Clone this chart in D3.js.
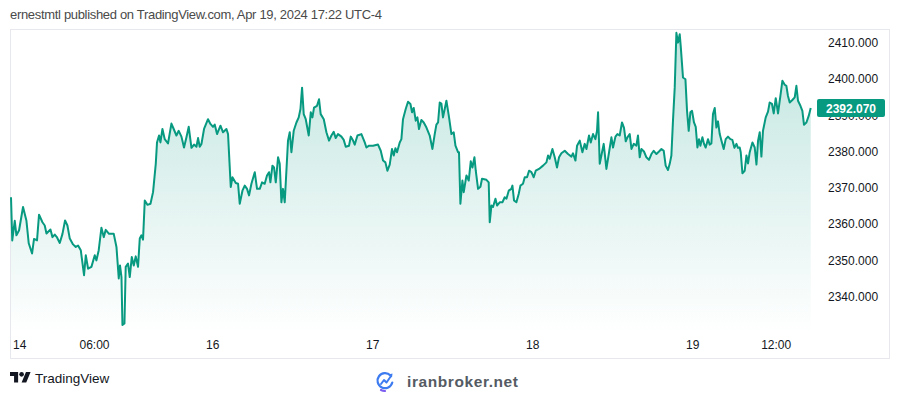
<!DOCTYPE html>
<html>
<head>
<meta charset="utf-8">
<script src="https://cdn.jsdelivr.net/npm/d3@7"></script>
<style>
  body { margin: 0; background: #fff; }
  svg { display: block; font-family: "Liberation Sans", Arial, sans-serif; }
</style>
</head>
<body>
<svg id="chart" width="900" height="395"></svg>
<script>
// trading hours since the Apr 14 18:00 open, and the XAUUSD price
var hours = [0, 0.18, 0.54, 0.78, 1.16, 1.73, 2.22, 2.55, 3.03, 3.31, 3.74, 4.03, 4.52, 4.85, 5.10, 5.67, 5.96, 6.29, 6.62, 7.01,
  7.40, 7.77, 8.11, 8.45, 8.92, 9.31, 9.64, 10.03, 10.50, 10.75, 11.08, 11.56, 12.04, 12.28, 12.61, 13.00, 13.33, 13.62, 14.09, 14.77,
  15.16, 15.49, 15.67, 15.88, 16.02, 16.31, 16.49, 16.82, 17.07, 17.36, 17.65, 17.93, 18.26, 18.51, 18.75, 18.98, 19.23, 19.61, 20.05, 20.42,
  20.81, 20.99, 21.28, 21.48, 21.77, 22.10, 22.57, 23.06, 23.39, 23.78, 24.11, 24.50, 24.87, 25.22, 25.55, 25.94, 26.31, 26.66, 26.89, 27.13,
  27.38, 27.75, 28.32, 28.67, 29.04, 29.29, 29.62, 30.11, 30.48, 30.97, 31.20, 31.59, 31.83, 32.31, 32.64, 32.88, 33.27, 33.60, 33.93, 34.22,
  34.56, 35.04, 35.37, 35.76, 36.09, 36.47, 36.80, 37.09, 37.29, 37.58, 37.81, 38.06, 38.39, 38.63, 38.87, 39.10, 39.35, 39.82, 40.07, 40.31,
  40.64, 41.03, 41.36, 41.61, 41.84, 42.08, 42.37, 42.80, 43.09, 43.33, 43.56, 43.99, 44.28, 44.52, 44.96, 45.34, 45.72, 46.06, 46.39, 46.68,
  47.01, 47.50, 47.83, 48.12, 48.59, 48.84, 49.17, 49.41, 49.80, 50.37, 50.85, 51.09, 51.47, 52.04, 52.76, 53.15, 53.48, 53.82, 54.11, 54.44,
  54.77, 55.02, 55.26, 55.49, 55.88, 56.12, 56.35, 56.74, 57.07, 57.42, 57.65, 57.89, 58.18, 58.42, 58.65, 58.99, 59.33, 59.72, 60.19, 60.58,
  60.91, 61.15, 61.39, 61.63, 61.87, 62.10, 62.59, 62.97, 63.31, 63.64, 63.89, 64.26, 64.40, 64.60, 64.89, 65.08, 65.47, 65.80, 66.09, 66.33,
  66.62, 66.81, 67.14, 67.48, 67.71, 68.34, 68.67, 68.82, 69.06, 69.29, 69.64, 69.87, 70.25, 70.64, 70.97, 71.22, 71.55, 71.93, 72.08, 72.31,
  72.65, 72.98, 73.23, 73.60, 73.85, 74.18, 74.47, 74.81, 75.14, 75.43, 75.90, 76.48, 76.97, 77.20, 77.44, 77.83, 78.16, 78.49, 78.78, 79.12,
  79.60, 80.07, 80.56, 80.79, 81.14, 81.37, 81.76, 82.14, 82.47, 82.72, 83.09, 83.34, 83.67, 84.01, 84.24, 84.39, 84.63, 84.96, 85.20, 85.59,
  85.97, 86.31, 86.54, 86.89, 87.17, 87.50, 87.83, 88.12, 88.37, 88.61, 88.94, 89.19, 89.52, 89.90, 90.13, 90.38, 90.62, 90.99, 91.34, 91.71,
  92.06, 92.39, 92.78, 93.15, 93.50, 93.83, 94.11, 94.44, 94.69, 94.93, 95.16, 95.41, 95.65, 95.88, 96.13, 96.27, 96.60, 96.95, 97.18, 97.42,
  97.66, 97.90, 98.18, 98.43, 98.67, 98.90, 99.10, 99.39, 99.62, 99.86, 100.19, 100.44, 100.68, 100.91, 101.16, 101.40, 101.63, 101.88, 102.12, 102.45,
  102.74, 103.07, 103.41, 103.70, 103.99, 104.28, 104.51, 104.75, 104.90, 105.14, 105.47, 105.72, 105.95, 106.19, 106.58, 106.91, 107.16, 107.39, 107.63, 107.87,
  108.10, 108.49, 108.82, 109.06, 109.39, 109.64, 109.93, 110.26, 110.60, 110.89, 111.22, 111.46, 111.69, 111.94, 112.32, 112.66, 112.90, 113.13, 113.48, 113.76,
  113.99, 114.34, 114.67, 114.96];
var prices = [2367.5, 2355.6, 2361, 2357, 2358.4, 2364.8, 2361, 2354.8, 2352, 2356, 2355.6, 2362.7, 2360.6, 2359.7, 2357.5, 2358.6, 2356.5, 2357.2, 2356.4, 2354.9,
  2357.4, 2361.1, 2359.7, 2356.1, 2354.5, 2353.8, 2354.2, 2352.9, 2346, 2351.5, 2347.8, 2348.3, 2351.5, 2350.1, 2352.9, 2359.1, 2356.5, 2358.5, 2357.4, 2357.4,
  2353.8, 2345.1, 2348.7, 2345.5, 2332.3, 2332.7, 2348.3, 2349.2, 2345.5, 2351, 2348.7, 2351.2, 2348.3, 2356.1, 2357, 2355.8, 2366.6, 2365.4, 2365.7, 2368.9,
  2376.7, 2382.6, 2384.5, 2382.6, 2386.3, 2383.5, 2382.3, 2387.8, 2386.3, 2384.5, 2385.8, 2384.2, 2381.2, 2384, 2386.9, 2381.1, 2382, 2381.4, 2383.8, 2381.4,
  2382.2, 2386.3, 2389, 2387.7, 2386.9, 2387.5, 2384.9, 2387.2, 2385.4, 2386.3, 2384.9, 2370.3, 2373, 2371.4, 2371.2, 2365.7, 2369.3, 2370.7, 2369.8, 2368,
  2371.2, 2374.4, 2369.8, 2369.8, 2371.6, 2371.2, 2373.5, 2374.4, 2371.6, 2376.2, 2375.7, 2371.6, 2378.5, 2376.7, 2366.1, 2369.8, 2366.1, 2383.1, 2385.4, 2379.9,
  2385.8, 2388.1, 2389.5, 2391.8, 2397.7, 2390.4, 2389, 2384.5, 2390.9, 2389.5, 2392.2, 2392.7, 2394.5, 2390.4, 2389, 2385.4, 2383.1, 2384.5, 2385.5, 2383.8,
  2384.9, 2384.2, 2383.3, 2381.4, 2381.7, 2384.2, 2383.1, 2382, 2384.5, 2384.9, 2382.6, 2381.2, 2381.7, 2381.7, 2382, 2380.3, 2377.6, 2377.1, 2374.8, 2376.5,
  2380.8, 2379, 2381, 2379.9, 2382.6, 2383.5, 2389, 2391.8, 2393.8, 2393.2, 2390.9, 2392.1, 2388.6, 2389.5, 2386.3, 2388.8, 2388.1, 2386.7, 2384.5, 2380.8,
  2384.9, 2387.5, 2388.1, 2393.6, 2393.3, 2389.5, 2394.1, 2389.5, 2384.9, 2385.4, 2381.7, 2379.9, 2379.9, 2365.7, 2372.1, 2368.9, 2373.5, 2372.1, 2377.4, 2375.7,
  2378.5, 2374.8, 2369.8, 2370.4, 2372.6, 2372.3, 2371.6, 2360.6, 2365.2, 2364.8, 2367.1, 2365.2, 2366.1, 2366.1, 2367.5, 2367.1, 2369.3, 2369.8, 2370.7, 2366.6,
  2366.1, 2368.4, 2370.7, 2371.2, 2373, 2373, 2374.8, 2374.4, 2373, 2374.8, 2375.3, 2376.2, 2377.1, 2379, 2378.1, 2380.8, 2378.5, 2375.7, 2378.5, 2379.6,
  2380.3, 2379.4, 2378.7, 2379.6, 2377.6, 2381.7, 2383.1, 2379.9, 2382.2, 2380.8, 2384.5, 2382.6, 2384.9, 2383.5, 2385.8, 2390.9, 2376.7, 2379.9, 2382.2, 2375.3,
  2379.9, 2384, 2381.2, 2384.2, 2384.9, 2384.5, 2388.1, 2386.6, 2382.9, 2384, 2384.9, 2380.8, 2382.2, 2381.7, 2384.5, 2378.5, 2380.8, 2380.1, 2378.5, 2377.8,
  2379.4, 2380.3, 2379.4, 2380.1, 2380.8, 2380.3, 2376.2, 2375, 2376.7, 2379, 2388.6, 2397.7, 2412.8, 2410.1, 2412.4, 2409.2, 2400.5, 2400, 2391.3, 2385.8,
  2390.9, 2391.3, 2388.1, 2386.9, 2381.2, 2383.5, 2381.7, 2384, 2382.2, 2381.2, 2383.5, 2382, 2382.3, 2390.4, 2392.1, 2386.7, 2388.4, 2384.9, 2383.1, 2380.8,
  2383.5, 2384.2, 2383.5, 2383.3, 2381.1, 2382.2, 2381.1, 2381.2, 2379.9, 2374.1, 2374.8, 2379, 2376.8, 2379.9, 2382.6, 2381.2, 2376.5, 2383.1, 2385.4, 2378.7,
  2385.8, 2389.5, 2391.1, 2393.6, 2393.2, 2390.6, 2394.8, 2390.6, 2395.4, 2399.6, 2398.5, 2398.2, 2395.4, 2393.6, 2394.3, 2395, 2398.2, 2394.1, 2392.7, 2391.3,
  2387.5, 2388.1, 2389.9, 2392.07];

var priceTicks = [2340, 2350, 2360, 2370, 2380, 2390, 2400, 2410];
var timeLabels = ["14", "06:00", "16", "17", "18", "19", "12:00"];
var timeHours = [0, 12, 29, 52, 75, 98, 110];
var lastPrice = 2392.07;

var svg = d3.select("#chart");
var paneTop = 29, paneBottom = 334, frameBottom = 358;
var green = "#089981";

var x = d3.scaleLinear().domain([0, 115]).range([11, 811]);
var y = d3.scaleLinear().domain([2340, 2410]).range([297, 43]);

var data = hours.map(function (h, i) { return { h: h, p: prices[i] }; });

// header
svg.append("text")
    .attr("x", 10)
    .attr("y", 19)
    .attr("fill", "#4a4a4a")
    .style("font-size", "13px")
    .attr("textLength", 372)
    .attr("lengthAdjust", "spacing")
    .text("ernestmtl published on TradingView.com, Apr 19, 2024 17:22 UTC-4");

// frame
svg.append("rect")
    .attr("x", 10.5).attr("y", paneTop + 0.5)
    .attr("width", 879).attr("height", frameBottom - paneTop)
    .attr("fill", "none")
    .attr("stroke", "#e6e8ee");

var grad = svg.append("defs").append("linearGradient")
    .attr("id", "areaFill")
    .attr("gradientUnits", "userSpaceOnUse")
    .attr("x1", 0).attr("x2", 0)
    .attr("y1", paneTop).attr("y2", paneBottom);
grad.append("stop").attr("offset", 0).attr("stop-color", green).attr("stop-opacity", 0.26);
grad.append("stop").attr("offset", 1).attr("stop-color", green).attr("stop-opacity", 0.0);

var area = d3.area()
    .x(function (d) { return x(d.h); })
    .y0(paneBottom)
    .y1(function (d) { return y(d.p); });
var line = d3.line()
    .x(function (d) { return x(d.h); })
    .y(function (d) { return y(d.p); });

svg.append("path").datum(data)
    .attr("d", area)
    .attr("fill", "url(#areaFill)");
svg.append("path").datum(data)
    .attr("d", line)
    .attr("fill", "none")
    .attr("stroke", green)
    .attr("stroke-width", 2)
    .attr("stroke-linejoin", "round");

// price scale
svg.append("g").selectAll("text")
    .data(priceTicks)
    .enter().append("text")
    .attr("x", 828)
    .attr("y", function (d) { return y(d) + 4; })
    .attr("fill", "#131722")
    .style("font-size", "12px")
    .text(function (d) { return d3.format(".3f")(d); });

var tag = svg.append("g").attr("transform", "translate(0," + y(lastPrice) + ")");
tag.append("rect")
    .attr("x", 817).attr("y", -9)
    .attr("width", 68).attr("height", 18)
    .attr("rx", 2)
    .attr("fill", green);
tag.append("text")
    .attr("x", 851).attr("y", 4.5)
    .attr("text-anchor", "middle")
    .attr("fill", "#fff")
    .style("font-size", "12px")
    .style("font-weight", "bold")
    .text(d3.format(".3f")(lastPrice));

// time scale
svg.append("g").selectAll("text")
    .data(timeLabels)
    .enter().append("text")
    .attr("x", function (d, i) { return i === 0 ? x(timeHours[i]) + 2 : x(timeHours[i]); })
    .attr("y", 349)
    .attr("text-anchor", function (d, i) { return i === 0 ? "start" : "middle"; })
    .attr("fill", "#131722")
    .style("font-size", "12px")
    .text(function (d) { return d; });

// TradingView logo
var logo = svg.append("g").attr("transform", "translate(10,369.7) scale(0.58)");
logo.append("path").attr("d", "M14 22H7V11H0V4h14v18zM28 22h-8l7.5-18h8L28 22z").attr("fill", "#131722");
logo.append("circle").attr("cx", 20).attr("cy", 8).attr("r", 4).attr("fill", "#131722");
svg.append("text")
    .attr("x", 35).attr("y", 383)
    .attr("fill", "#131722")
    .style("font-size", "13.5px")
    .text("TradingView");

// iranbroker watermark
var mark = svg.append("g").attr("transform", "translate(385,381)");
mark.append("path")
    .attr("d", "M5.5 -5.5 A7.5 7.5 0 1 0 7.3 1.5")
    .attr("fill", "none").attr("stroke", "#3d7bf0").attr("stroke-width", 2.2).attr("stroke-linecap", "round");
mark.append("path")
    .attr("d", "M-4 3 L-1 -1 L1.5 1.5 L6 -5")
    .attr("fill", "none").attr("stroke", "#3d7bf0").attr("stroke-width", 2).attr("stroke-linejoin", "round").attr("stroke-linecap", "round");
mark.append("path").attr("d", "M3.5 -6.5 L7.5 -7.5 L7 -3.5 Z").attr("fill", "#3d7bf0");
mark.append("path")
    .attr("d", "M-4 9 A7.5 7.5 0 0 0 0 10")
    .attr("fill", "none").attr("stroke", "#7b5cf0").attr("stroke-width", 2.2).attr("stroke-linecap", "round");
svg.append("text")
    .attr("x", 407).attr("y", 387)
    .attr("fill", "#555b63")
    .style("font-size", "15.5px")
    .style("font-weight", "bold")
    .attr("textLength", 111)
    .text("iranbroker.net");
</script>
</body>
</html>
